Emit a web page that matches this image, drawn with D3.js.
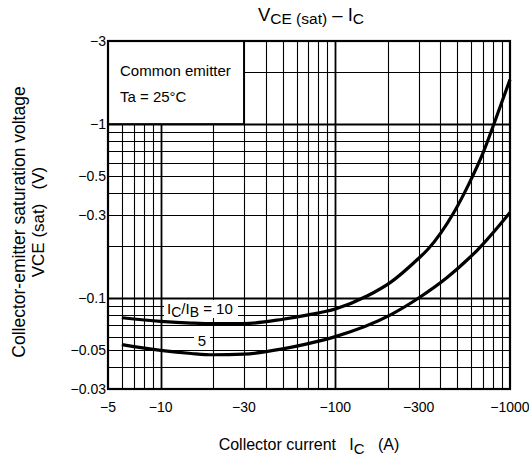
<!DOCTYPE html>
<html>
<head>
<meta charset="utf-8">
<script src="https://cdn.jsdelivr.net/npm/d3@7"></script>
<style>
  body { margin: 0; background: #fff; }
  text { font-family: "Liberation Sans", Arial, sans-serif; fill: #000; }
</style>
</head>
<body>
<div id="chart"></div>
<script>
// tick labels & grid (absolute values, shown with minus sign)
var xTicks = [5, 10, 30, 100, 300, 1000];
var yTicks = [0.03, 0.05, 0.1, 0.3, 0.5, 1, 3];
var xGrid = [6, 7, 8, 9, 10, 20, 30, 40, 50, 60, 70, 80, 90, 100, 200, 300, 400, 500, 600, 700, 800, 900];
var yGrid = [0.04, 0.05, 0.06, 0.07, 0.08, 0.09, 0.1, 0.2, 0.3, 0.4, 0.5, 0.6, 0.7, 0.8, 0.9, 1, 2];

// curves
var ic10 = [6, 10, 15, 20, 30, 50, 70, 100, 153, 207, 296, 338, 477, 580, 700, 809, 1000];
var vce10 = [0.077, 0.0735, 0.0718, 0.0712, 0.0713, 0.0755, 0.080, 0.0865, 0.103, 0.123, 0.167, 0.19, 0.31, 0.45, 0.68, 1.0, 1.8];
var ic5 = [6, 10, 15, 20, 30, 50, 69, 100, 207, 300, 440, 574, 655, 1000];
var vce5 = [0.054, 0.050, 0.048, 0.0472, 0.0476, 0.051, 0.0545, 0.060, 0.080, 0.1, 0.132, 0.167, 0.19, 0.31];

var width = 529, height = 459;
var margin = { top: 41, right: 19, bottom: 70, left: 108 };

var svg = d3.select("#chart").append("svg")
    .attr("width", width)
    .attr("height", height);

var x = d3.scaleLog().domain([5, 1000]).range([margin.left, width - margin.right]);
var y = d3.scaleLog().domain([0.03, 3]).range([height - margin.bottom, margin.top]);

var g = svg.append("g");

function minus(v) { return "\u2212" + v; }

// grid
g.selectAll(".vg").data(xGrid).enter().append("line")
    .attr("x1", function(d) { return Math.round(x(d)) + 0.5; })
    .attr("x2", function(d) { return Math.round(x(d)) + 0.5; })
    .attr("y1", y(0.03))
    .attr("y2", y(3))
    .attr("stroke", "#000")
    .attr("stroke-width", function(d) { return (d === 10 || d === 100) ? 1.8 : 1.1; });

g.selectAll(".hg").data(yGrid).enter().append("line")
    .attr("x1", x(5))
    .attr("x2", x(1000))
    .attr("y1", function(d) { return Math.round(y(d)) + 0.5; })
    .attr("y2", function(d) { return Math.round(y(d)) + 0.5; })
    .attr("stroke", "#000")
    .attr("stroke-width", function(d) { return (d === 0.1 || d === 1) ? 1.8 : 1.1; });

// white box for conditions
g.append("rect")
    .attr("x", x(5))
    .attr("y", y(3))
    .attr("width", x(30) - x(5))
    .attr("height", y(1) - y(3))
    .attr("fill", "#fff")
    .attr("stroke", "#000")
    .attr("stroke-width", 1.8);

g.append("text").attr("x", x(5) + 12).attr("y", y(3) + 35)
    .attr("font-size", 15).text("Common emitter");
g.append("text").attr("x", x(5) + 12).attr("y", y(3) + 61)
    .attr("font-size", 15).text("Ta = 25\u00b0C");

// frame
g.append("rect")
    .attr("x", x(5))
    .attr("y", y(3))
    .attr("width", x(1000) - x(5))
    .attr("height", y(0.03) - y(3))
    .attr("fill", "none")
    .attr("stroke", "#000")
    .attr("stroke-width", 2.2);

// curves
var line = d3.line()
    .x(function(d) { return x(d[0]); })
    .y(function(d) { return y(d[1]); })
    .curve(d3.curveMonotoneX);

[[ic10, vce10], [ic5, vce5]].forEach(function(s) {
    g.append("path")
        .datum(d3.zip(s[0], s[1]))
        .attr("d", line)
        .attr("fill", "none")
        .attr("stroke", "#000")
        .attr("stroke-width", 3.2);
});

// curve labels
g.append("rect").attr("x", 164).attr("y", 300).attr("width", 74).attr("height", 18).attr("fill", "#fff");
var lab = g.append("text").attr("x", 167).attr("y", 314).attr("font-size", 15);
lab.append("tspan").text("I");
lab.append("tspan").attr("dy", 3).attr("font-size", 14).text("C");
lab.append("tspan").attr("dy", -3).text("/I");
lab.append("tspan").attr("dy", 3).attr("font-size", 14).text("B");
lab.append("tspan").attr("dy", -3).text(" = 10");

g.append("rect").attr("x", 194).attr("y", 333).attr("width", 16).attr("height", 15).attr("fill", "#fff");
g.append("text").attr("x", 202).attr("y", 346).attr("font-size", 15)
    .attr("text-anchor", "middle").text("5");

// tick labels
g.selectAll(".xt").data(xTicks).enter().append("text")
    .attr("x", function(d) { return x(d); })
    .attr("y", 412)
    .attr("font-size", 14)
    .attr("text-anchor", "middle")
    .text(function(d) { return minus(d); });

g.selectAll(".yt").data(yTicks).enter().append("text")
    .attr("x", x(5) - 2)
    .attr("y", function(d) { return y(d) + 5; })
    .attr("font-size", 14)
    .attr("text-anchor", "end")
    .text(function(d) { return minus(d); });

// x label
var xl = g.append("text").attr("x", 309).attr("y", 450)
    .attr("font-size", 16).attr("text-anchor", "middle").attr("xml:space", "preserve");
xl.append("tspan").text("Collector current   I");
xl.append("tspan").attr("dy", 4).attr("font-size", 15).text("C");
xl.append("tspan").attr("dy", -4).text("   (A)");

// y label
var yl = g.append("g").attr("transform", "translate(25,222) rotate(-90)");
yl.append("text").attr("text-anchor", "middle").attr("font-size", 17.5)
    .text("Collector-emitter saturation voltage");
yl.append("text").attr("y", 19).attr("text-anchor", "middle").attr("font-size", 17)
    .attr("xml:space", "preserve").text("VCE (sat)   (V)");

// title
var t = g.append("text").attr("x", 311).attr("y", 21)
    .attr("font-size", 18.5).attr("text-anchor", "middle");
t.append("tspan").text("V");
t.append("tspan").attr("dy", 3).attr("font-size", 15.5).text("CE (sat)");
t.append("tspan").attr("dy", -3).text(" \u2013 I");
t.append("tspan").attr("dy", 3).attr("font-size", 15.5).text("C");
</script>
</body>
</html>
